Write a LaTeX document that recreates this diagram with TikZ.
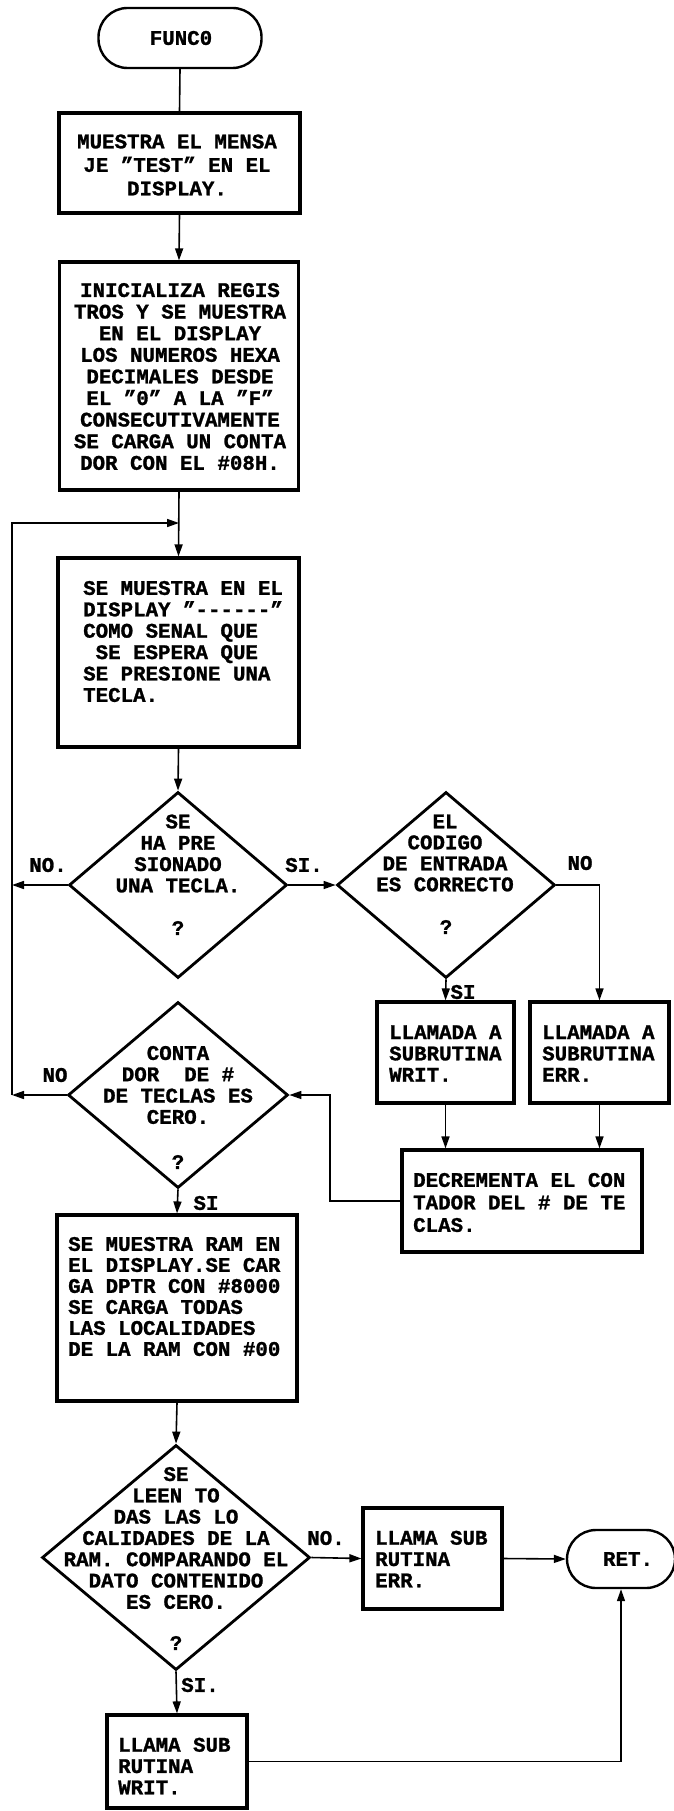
\documentclass[tikz,border=0pt]{standalone}
\usepackage{fontspec}
\newfontfamily\dmfont{Liberation Mono}[BoldFeatures={FakeBold=1.2}]
\usetikzlibrary{shapes.geometric,arrows.meta}
\newcommand\tfnt[1]{\dmfont\bfseries\fontsize{20.8}{#1}\selectfont}
\begin{document}
\begin{tikzpicture}[x=1pt,y=-1pt,
 box/.style={draw, line width=3.2pt, rectangle, inner sep=0pt},
 term/.style={draw, line width=2.4pt, rectangle, rounded corners=29pt, inner sep=0pt},
 dia/.style={draw, line width=2.8pt, diamond, inner sep=0pt},
 txt/.style={font=\tfnt{21.3}, inner sep=0pt, align=center},
 ltxt/.style={txt, align=left, anchor=west},
 conn/.style={line width=1.6pt},
 arr/.style={conn, -{Triangle[length=12pt,width=8pt]}}]
\useasboundingbox (0,0) rectangle (674,1811);
\fill[white] (0,0) rectangle (674,1811);

% nodes
\node[term, minimum width=163pt, minimum height=60pt] (start) at (180,38) {};
\node[txt] (tstart) at (181,38) {FUNC0};

\node[box, minimum width=241pt, minimum height=100pt] (b1) at (179.5,163) {};
\node[txt, font=\tfnt{23.5}] (t1) at (177,165) {MUESTRA EL MENSA\\JE ”TEST” EN EL\\DISPLAY.};

\node[box, minimum width=239pt, minimum height=228pt] (b2) at (179,376) {};
\node[txt, font=\tfnt{21.6}] (t2) at (180,376.5) {INICIALIZA REGIS\\TROS Y SE MUESTRA\\EN EL DISPLAY\\LOS NUMEROS HEXA\\DECIMALES DESDE\\EL ”0” A LA ”F”\\CONSECUTIVAMENTE\\SE CARGA UN CONTA\\DOR CON EL \#08H.};

\coordinate (j) at (179,523);
\coordinate (lt) at (12,523);
\coordinate (l1) at (12,885);
\coordinate (l3) at (12,1095);

\node[box, minimum width=241pt, minimum height=189pt] (b3) at (178.5,652.5) {};
\node[ltxt, font=\tfnt{21.4}] (t3) at (83,641.5) {SE MUESTRA EN EL\\DISPLAY ”------”\\COMO SENAL QUE\\~SE ESPERA QUE\\SE PRESIONE UNA\\TECLA.};

\node[dia, minimum width=218pt, minimum height=186pt] (d1) at (178,885) {};
\node[txt] (td1) at (178,853.5) {SE\\HA PRE\\SIONADO\\UNA TECLA.};
\node[txt] (q1) at (178,928) {?};

\node[dia, minimum width=218pt, minimum height=186pt] (d2) at (446,885) {};
\node[txt, font=\tfnt{21}] (td2) at (445,853) {EL\\CODIGO\\DE ENTRADA\\ES CORRECTO};
\node[txt] (q2) at (446,927) {?};

\node[box, minimum width=137pt, minimum height=101pt] (wr) at (445.5,1052.5) {};
\node[ltxt] (twr) at (389,1053.5) {LLAMADA A\\SUBRUTINA\\WRIT.};
\node[box, minimum width=139pt, minimum height=101pt] (er) at (599.5,1052.5) {};
\node[ltxt] (ter) at (542,1053.5) {LLAMADA A\\SUBRUTINA\\ERR.};

\node[box, minimum width=240pt, minimum height=102pt] (dec) at (522,1201) {};
\node[ltxt, font=\tfnt{22.5}] (tdec) at (413,1202.5) {DECREMENTA EL CON\\TADOR DEL \# DE TE\\CLAS.};
\coordinate (c1) at (330,1201);
\coordinate (c2) at (330,1095);

\node[dia, minimum width=220pt, minimum height=186pt] (d3) at (178,1095) {};
\node[txt] (td3) at (178,1085) {CONTA\\DOR~~DE~\#\\DE TECLAS ES\\CERO.};
\node[txt] (q3) at (178,1162) {?};

\node[box, minimum width=240pt, minimum height=186pt] (b4) at (177,1308) {};
\node[ltxt, font=\tfnt{21}] (tb4) at (68,1296.5) {SE MUESTRA RAM EN\\EL DISPLAY.SE CAR\\GA DPTR CON \#8000\\SE CARGA TODAS\\LAS LOCALIDADES\\DE LA RAM CON \#00};

\node[dia, minimum width=268pt, minimum height=225pt] (d4) at (176,1557.5) {};
\node[txt] (td4) at (176,1538) {SE\\LEEN TO\\DAS LAS LO\\CALIDADES DE LA\\RAM. COMPARANDO EL\\DATO CONTENIDO\\ES CERO.};
\node[txt] (q4) at (176,1643) {?};

\node[box, minimum width=139pt, minimum height=101pt] (er2) at (432.5,1558.5) {};
\node[ltxt] (ter2) at (375,1559) {LLAMA SUB\\RUTINA\\ERR.};

\node[term, minimum width=108pt, minimum height=58pt] (ret) at (621,1559) {};
\node[txt] (tret) at (628,1559) {RET.};

\node[box, minimum width=140pt, minimum height=93pt] (wr2) at (177,1761.5) {};
\node[ltxt] (twr2) at (118,1766) {LLAMA SUB\\RUTINA\\WRIT.};

% labels
\node[txt] (lno1) at (48,865) {NO.};
\node[txt] (lsi1) at (304,865) {SI.};
\node[txt] (lno2) at (580,863) {NO};
\node[txt] (lsi2) at (463,992) {SI};
\node[txt] (lno3) at (55,1075) {NO};
\node[txt] (lsi3) at (206,1203) {SI};
\node[txt] (lno4) at (326,1538) {NO.};
\node[txt] (lsi4) at (200,1685) {SI.};

% connectors
\draw[conn] (start.south) -- (b1.north);
\draw[arr] (b1.south) -- (b2.north);
\draw[arr] (b2.south) -- (b3.north);
\draw[arr] (l3) -- (lt) -- (j);
\draw[arr] (b3.south) -- (d1.north);
\draw[arr] (d1.west) -- (l1);
\draw[arr] (d1.east) -- (d2.west);
\draw[arr] (d2.south) -- (wr.north);
\draw[arr] (d2.east) -| (er.north);
\draw[arr] (wr.south) -- (wr.south |- dec.north);
\draw[arr] (er.south) -- (er.south |- dec.north);
\draw[arr] (dec.west) -- (c1) -- (c2) -- (d3.east);
\draw[arr] (d3.west) -- (l3);
\draw[arr] (d3.south) -- (b4.north);
\draw[arr] (b4.south) -- (d4.north);
\draw[arr] (d4.east) -- (er2.west);
\draw[arr] (er2.east) -- (ret.west);
\draw[arr] (d4.south) -- (wr2.north);
\draw[arr] (wr2.east) -| (ret.south);
\end{tikzpicture}
\end{document}
